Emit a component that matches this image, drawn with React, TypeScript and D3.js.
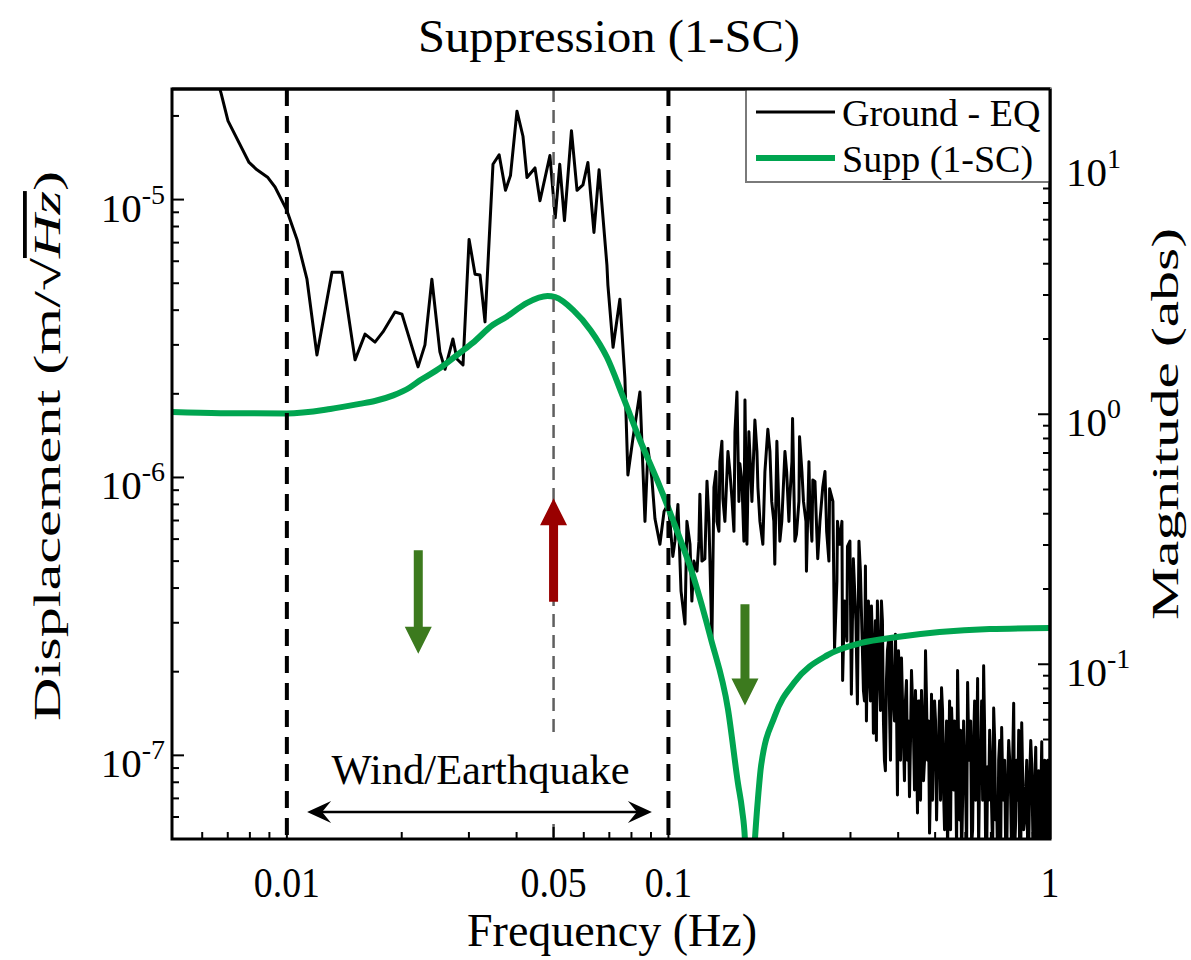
import React, { useEffect, useRef } from "react";
import * as d3 from "d3";

// ground displacement spectrum (Hz, m/sqrt(Hz))
const groundFreq = [
  0.00637, 0.00672, 0.00701, 0.00796, 0.00835, 0.00892, 0.00931, 0.01, 0.01063, 0.01129,
  0.01199, 0.01313, 0.01395, 0.01509, 0.01603, 0.01702, 0.01786, 0.0192, 0.02003, 0.02207,
  0.02301, 0.02399, 0.02518, 0.02597, 0.02724, 0.02791, 0.02895, 0.03003, 0.03113, 0.03208,
  0.03306, 0.03469, 0.036, 0.03741, 0.03855, 0.04009, 0.04157, 0.04259, 0.0447, 0.04606,
  0.04891, 0.0505, 0.0519, 0.0534, 0.0557, 0.0576, 0.0597, 0.0615, 0.0638, 0.0658,
  0.069, 0.0694, 0.0716, 0.0746, 0.0769, 0.0783, 0.0807, 0.0842, 0.0868, 0.0884,
  0.0905, 0.0922, 0.095, 0.0974, 0.0997, 0.1027, 0.1059, 0.1105, 0.1139, 0.1166,
  0.1188, 0.1209, 0.1246, 0.1262, 0.13, 0.1316, 0.134, 0.1364, 0.1389, 0.1432,
  0.1467, 0.1512, 0.1539, 0.1587, 0.1606, 0.1635, 0.1685, 0.1716, 0.1768, 0.1822,
  0.1865, 0.19, 0.1935, 0.1982, 0.2041, 0.2078, 0.2115, 0.2165, 0.2206, 0.2259,
  0.23, 0.2345, 0.239, 0.2462, 0.2537, 0.2598, 0.2645, 0.2725, 0.2774, 0.2808,
  0.2861, 0.2893, 0.2946, 0.3016, 0.3052, 0.3128, 0.3185,
  0.3244, 0.3283, 0.3323, 0.3363, 0.3404, 0.3445, 0.3487, 0.3529, 0.3573, 0.3616,
  0.366, 0.3704, 0.3749, 0.3796, 0.3842, 0.3888, 0.3935, 0.3983, 0.4032, 0.4081,
  0.413, 0.418, 0.4231, 0.4283, 0.4335, 0.4388, 0.4441, 0.4495, 0.455, 0.4605,
  0.4661, 0.4718, 0.4775, 0.4834, 0.4892, 0.4952, 0.5012, 0.5073, 0.5135, 0.5197,
  0.526, 0.5324, 0.5389, 0.5455, 0.5521, 0.5588, 0.5656, 0.5725, 0.5795, 0.5865,
  0.5937, 0.6009, 0.6082, 0.6157, 0.6231, 0.6307, 0.6384, 0.6461, 0.654, 0.6619,
  0.67, 0.6781, 0.6864, 0.6948, 0.7032, 0.7118, 0.7204, 0.7292, 0.7381, 0.747,
  0.7561, 0.7653, 0.7746, 0.7841, 0.7936, 0.8032, 0.813, 0.8229, 0.833, 0.8431,
  0.8533, 0.8637, 0.8742, 0.8849, 0.8956, 0.9065, 0.9176, 0.9287, 0.94, 0.9515,
  0.963, 0.9748, 0.9866, 1.0,
];
const groundAmp = [
  3.1e-5, 2.42e-5, 1.92e-5, 1.36e-5, 1.28e-5, 1.2e-5, 1.11e-5, 9.14e-6, 7.19e-6, 5.17e-6,
  2.76e-6, 5.48e-6, 5.48e-6, 2.65e-6, 3.28e-6, 3.07e-6, 3.34e-6, 3.94e-6, 3.87e-6, 2.5e-6,
  3.0e-6, 5.17e-6, 2.83e-6, 2.45e-6, 3.15e-6, 2.67e-6, 2.54e-6, 7.19e-6, 5.39e-6, 5.35e-6,
  3.63e-6, 1.34e-5, 1.45e-5, 1.08e-5, 1.22e-5, 2.08e-5, 1.69e-5, 1.2e-5, 1.3e-5, 9.9e-6,
  1.44e-5, 8.6e-6, 1.34e-5, 8.4e-6, 1.77e-5, 1.08e-5, 1.13e-5, 1.36e-5, 7.62e-6, 1.28e-5,
  5.8e-6, 4.92e-6, 2.94e-6, 4.38e-6, 2.27e-6, 1.02e-6, 1.38e-6, 2.03e-6, 6.95e-7, 1.27e-6,
  9.9e-7, 7.1e-7, 5.75e-7, 7.55e-7, 8.0e-7, 5.2e-7, 8.0e-7, 2.97e-7, 5.75e-7, 5.0e-7,
  4.6e-7, 8.7e-7, 5.1e-7, 9.7e-7, 2.58e-7, 9.2e-7, 6.95e-7, 1.14e-6, 8.4e-7, 1.24e-6,
  8.4e-7, 2.03e-6, 1.12e-6, 1.9e-6, 5.75e-7, 1.21e-6, 1.61e-6, 9.2e-7, 5.75e-7, 1.49e-6,
  8.2e-7, 4.87e-7, 1.03e-6, 6.95e-7, 1.05e-6, 8.2e-7, 1.63e-6, 6.24e-7, 1.4e-6, 8.2e-7,
  4.6e-7, 8.2e-7, 9.8e-7, 5.1e-7, 9.2e-7, 6.4e-7, 9.1e-7, 2.43e-7, 6.95e-7, 5.75e-7,
  1.86e-7, 3.59e-7, 5.65e-7, 1.66e-7, 5.1e-7, 1.53e-7, 4.6e-7,
  1.71e-7, 4.8e-7, 2.58e-7, 1.91e-7, 3.45e-7, 1.2e-7, 3.05e-7, 3.59e-7, 1.86e-7, 3.59e-7,
  1.33e-7, 8.8e-8, 2.38e-7, 1.49e-7, 2.58e-7, 1.57e-7, 2.73e-7, 7.2e-8, 1.86e-7, 2.24e-7,
  1.13e-7, 1.57e-7, 9.6e-8, 7.1e-8, 2.02e-7, 1.18e-7, 1.71e-7, 6.2e-8, 1.57e-7, 1.71e-7,
  8.1e-8, 2.38e-7, 9.6e-8, 5.25e-8, 1.66e-7, 1.13e-7, 1.33e-7, 9.1e-8, 1.57e-7, 1.75e-7,
  7.5e-8, 9.6e-8, 4.57e-8, 1.57e-7, 1.48e-7, 7.5e-8, 9.6e-8, 2.02e-7, 5.85e-8, 4.2e-8,
  1.33e-7, 7.5e-8, 1.83e-7, 9.6e-8, 4.75e-8, 1.13e-7, 6.9e-8, 1.89e-7, 8.8e-8, 1.57e-7,
  2.1e-7, 4.57e-8, 9.1e-8, 1.23e-7, 6.45e-8, 1.48e-7, 5.85e-8, 3.9e-8, 1.13e-7, 1.26e-7,
  6.9e-8, 4.57e-8, 8.1e-8, 9.6e-8, 4.2e-8, 1.54e-7, 5.85e-8, 6.9e-8, 3.9e-8, 1.31e-7,
  5.4e-8, 7.5e-8, 4.2e-8, 8.5e-8, 9.3e-8, 4.2e-8, 1.07e-7, 4.57e-8, 4.2e-8, 1.12e-7,
  4.75e-8, 5.4e-8, 9.6e-8, 4.2e-8,
];

const groundFillFreq = [
  0.1009, 0.104, 0.1079, 0.1118, 0.1152, 0.1202, 0.1224, 0.1277, 0.1332, 0.1356,
  0.1381, 0.1406, 0.1449, 0.1485, 0.1494, 0.153, 0.1558, 0.1577, 0.1625, 0.1655,
  0.1706, 0.1737, 0.179, 0.1845, 0.1889, 0.1924, 0.1959, 0.202, 0.2069, 0.2107,
  0.2145, 0.2198, 0.2238, 0.2293, 0.2335, 0.2377, 0.2421, 0.2495, 0.2572, 0.2634,
  0.2698, 0.2764, 0.2849, 0.2936, 0.299, 0.31, 0.3157,
  0.3264, 0.3303, 0.3343, 0.3384, 0.3425, 0.3466, 0.3508, 0.3551, 0.3595, 0.3638,
  0.3682, 0.3727, 0.3773, 0.3819, 0.3865, 0.3912, 0.3959, 0.4008, 0.4057, 0.4106,
  0.4155, 0.4206, 0.4257, 0.4309, 0.4362, 0.4415, 0.4468, 0.4523, 0.4578, 0.4633,
  0.469, 0.4747, 0.4805, 0.4863, 0.4922, 0.4982, 0.5043, 0.5104, 0.5166, 0.5229,
  0.5292, 0.5357, 0.5422, 0.5488, 0.5555, 0.5622, 0.5691, 0.576, 0.583, 0.5901,
  0.5973, 0.6046, 0.612, 0.6194, 0.6269, 0.6346, 0.6423, 0.6501, 0.658, 0.666,
  0.6741, 0.6823, 0.6906, 0.699, 0.7075, 0.7161, 0.7248, 0.7337, 0.7426, 0.7516,
  0.7607, 0.77, 0.7794, 0.7889, 0.7984, 0.8081, 0.818, 0.828, 0.8381, 0.8482,
  0.8585, 0.869, 0.8796, 0.8903, 0.9011, 0.9121, 0.9232, 0.9344, 0.9458, 0.9573,
  0.9689, 0.9807, 0.9926,
];
const groundFillAmp = [
  6.95e-7, 5.9e-7, 3.9e-7, 6.95e-7, 3.59e-7, 5.9e-7, 5.0e-7, 6.95e-7, 1.05e-6, 6.4e-7,
  1.35e-6, 6.95e-7, 1.05e-6, 6.4e-7, 1.46e-6, 8.2e-7, 9.68e-7, 5.9e-7, 1.46e-6, 8.2e-7,
  1.24e-6, 6.95e-7, 1.05e-6, 1.24e-6, 6.95e-7, 1.35e-6, 5.9e-7, 1.24e-6, 6.95e-7, 1.14e-6,
  5.9e-7, 8.2e-7, 1.05e-6, 6.95e-7, 1.14e-6, 5.9e-7, 9.68e-7, 6.95e-7, 1.05e-6, 5.0e-7,
  8.2e-7, 4.24e-7, 6.95e-7, 2.58e-7, 5.9e-7, 3.05e-7, 5.9e-7,
  1.57e-7, 1.33e-7, 3.59e-7, 1.57e-7, 2.58e-7, 1.71e-7, 1.13e-7, 2.58e-7, 1.45e-7, 3.05e-7,
  9.6e-8, 1.86e-7, 2.58e-7, 9.6e-8, 1.86e-7, 1.33e-7, 1.57e-7, 2.38e-7, 9.6e-8, 1.57e-7,
  8.1e-8, 1.86e-7, 1.33e-7, 1.13e-7, 1.57e-7, 7.5e-8, 1.13e-7, 1.57e-7, 6.9e-8, 1.33e-7,
  9.6e-8, 1.57e-7, 1.33e-7, 8.1e-8, 6.9e-8, 1.57e-7, 5.85e-8, 1.13e-7, 6.9e-8, 1.45e-7,
  5.4e-8, 1.33e-7, 8.1e-8, 5.4e-8, 1.13e-7, 1.33e-7, 4.57e-8, 1.13e-7, 1.23e-7, 6.9e-8,
  9.6e-8, 4.57e-8, 1.13e-7, 1.33e-7, 5.4e-8, 1.57e-7, 9.6e-8, 4.57e-8, 9.6e-8, 6.9e-8,
  1.23e-7, 4.2e-8, 6.9e-8, 9.6e-8, 4.57e-8, 1.13e-7, 6.9e-8, 9.6e-8, 4.57e-8, 8.1e-8,
  9.6e-8, 4.2e-8, 1.13e-7, 6.9e-8, 9.6e-8, 4.57e-8, 9.6e-8, 1.23e-7, 4.2e-8, 8.1e-8,
  5.85e-8, 9.6e-8, 4.57e-8, 1.13e-7, 5.4e-8, 8.1e-8, 4.57e-8, 8.8e-8, 6.9e-8, 4.2e-8,
  9.6e-8, 4.57e-8, 8.1e-8,
];

// suppression transfer magnitude (1 - SC), right axis
const suppFreq = [
  0.005, 0.0067, 0.01, 0.013, 0.0155, 0.017, 0.019, 0.021, 0.0224, 0.0252,
  0.0284, 0.0307, 0.0347, 0.0376, 0.0426, 0.0482, 0.0505, 0.0563, 0.0625, 0.069,
  0.0761, 0.0842, 0.0934, 0.1027, 0.1166, 0.1291, 0.1432, 0.1521, 0.156, 0.1587,
  0.1625, 0.1685, 0.1716, 0.1749, 0.19, 0.2141, 0.2618, 0.3205, 0.3974, 0.5135,
  0.6948, 1.0,
];
const suppMag = [
  1.02, 1.01, 1.007, 1.05, 1.1, 1.13, 1.19, 1.28, 1.37, 1.53,
  1.76, 1.93, 2.28, 2.45, 2.79, 2.97, 2.94, 2.61, 2.17, 1.69,
  1.17, 0.789, 0.546, 0.378, 0.221, 0.127, 0.0662, 0.0335, 0.0261, 0.0198,
  0.006, 0.0198, 0.0289, 0.0392, 0.0621, 0.0849, 0.109, 0.1217, 0.1285, 0.1346,
  0.1384, 0.1396,
];

const seriesNames = ["Ground - EQ", "Supp (1-SC)"];
const xTicks = [0.01, 0.05, 0.1, 1];
const xTickLabels = ["0.01", "0.05", "0.1", "1"];
const leftTicks = [1e-7, 1e-6, 1e-5];
const leftTickExp = ["-7", "-6", "-5"];
const rightTicks = [0.1, 1, 10];
const rightTickExp = ["-1", "0", "1"];
const bandEdges = [0.01, 0.1];
const centreFreq = [0.05];

// block arrows: frequency, tail and tip on the left axis
const arrowFreq = [0.0221, 0.05, 0.1587];
const arrowTail = [5.47e-7, 3.57e-7, 3.5e-7];
const arrowTip = [2.32e-7, 8.41e-7, 1.51e-7];
const arrowColor = ["#3c7a1e", "#990000", "#3c7a1e"];

// band marker
const bandArrowFreq = [0.0113, 0.0905];
const bandArrowLevel = 6.25e-8;
const bandLabel = "Wind/Earthquake";
const bandLabelFreq = 0.0322;
const bandLabelLevel = 7.87e-8;

const FONT = "'Liberation Serif', 'Times New Roman', serif";

export default function App() {
  const ref = useRef<SVGSVGElement>(null);

  useEffect(() => {
    const svg = d3.select(ref.current);
    svg.selectAll("*").remove();
    const left = 172, right = 1050, top = 89, bottom = 839;

    const x = d3.scaleLog().domain([0.005, 1]).range([left, right]);
    const yL = d3.scaleLog().domain([5e-8, 2.5e-5]).range([bottom, top]);
    const yR = d3.scaleLog().domain([0.02, 20]).range([bottom, top]);

    svg.append("rect").attr("width", 1191).attr("height", 960).attr("fill", "#fff");

    svg.append("defs").append("clipPath").attr("id", "plotclip")
      .append("rect").attr("x", left).attr("y", top).attr("width", right - left).attr("height", bottom - top);

    const plot = svg.append("g").attr("clip-path", "url(#plotclip)");

    const n = Math.min(groundFreq.length, groundAmp.length);
    const m = Math.min(groundFillFreq.length, groundFillAmp.length);
    const ground = groundFreq.slice(0, n).map((f, i) => [f, groundAmp[i]])
      .concat(groundFillFreq.slice(0, m).map((f, i) => [f, groundFillAmp[i]]))
      .sort((a, b) => a[0] - b[0]);
    const supp = suppFreq.map((f, i) => [f, suppMag[i]]);

    plot.append("path")
      .attr("d", d3.line().x((d: any) => x(d[0])).y((d: any) => yL(d[1]))(ground as any))
      .attr("fill", "none").attr("stroke", "#000").attr("stroke-width", 3)
      .attr("stroke-linejoin", "round");

    plot.append("path")
      .attr("d", d3.line().curve(d3.curveMonotoneX).x((d: any) => x(d[0])).y((d: any) => yR(d[1]))(supp as any))
      .attr("fill", "none").attr("stroke", "#00a550").attr("stroke-width", 6);

    // vertical markers
    plot.selectAll(".edge").data(bandEdges).enter().append("line")
      .attr("x1", (d) => x(d)).attr("x2", (d) => x(d)).attr("y1", top).attr("y2", bottom)
      .attr("stroke", "#000").attr("stroke-width", 4).attr("stroke-dasharray", "17,10");
    plot.selectAll(".centre").data(centreFreq).enter().append("line")
      .attr("x1", (d) => x(d)).attr("x2", (d) => x(d)).attr("y1", top).attr("y2", bottom)
      .attr("stroke", "#5f5f5f").attr("stroke-width", 2.5).attr("stroke-dasharray", "13,8");

    // band label with white box
    const lx = x(bandLabelFreq), ly = yL(bandLabelLevel);
    plot.append("rect").attr("x", lx - 153).attr("y", ly - 47).attr("width", 306).attr("height", 79).attr("fill", "#fff");
    svg.append("text").attr("x", lx).attr("y", ly).attr("text-anchor", "middle")
      .style("font-family", FONT).style("font-size", "42.5px").text(bandLabel);

    const ay = yL(bandArrowLevel);
    const ax0 = x(bandArrowFreq[0]), ax1 = x(bandArrowFreq[1]);
    svg.append("line").attr("x1", ax0 + 10).attr("x2", ax1 - 10).attr("y1", ay).attr("y2", ay)
      .attr("stroke", "#000").attr("stroke-width", 2.5);
    const head = (tx: number, dir: number) =>
      `M${tx},${ay} L${tx + dir * 24},${ay - 11} L${tx + dir * 15},${ay} L${tx + dir * 24},${ay + 11} Z`;
    svg.append("path").attr("d", head(ax0, 1)).attr("fill", "#000");
    svg.append("path").attr("d", head(ax1, -1)).attr("fill", "#000");

    // block arrows
    arrowFreq.forEach((f, i) => {
      const cx = x(f), y0 = yL(arrowTail[i]), y1 = yL(arrowTip[i]);
      const dir = y1 > y0 ? 1 : -1;
      const hb = y1 - dir * 27;
      svg.append("path")
        .attr("d", `M${cx - 4.5},${y0} L${cx + 4.5},${y0} L${cx + 4.5},${hb} L${cx + 13.5},${hb} L${cx},${y1} L${cx - 13.5},${hb} L${cx - 4.5},${hb} Z`)
        .attr("fill", arrowColor[i]);
    });

    // axes box
    svg.append("rect").attr("x", left).attr("y", top).attr("width", right - left).attr("height", bottom - top)
      .attr("fill", "none").attr("stroke", "#000").attr("stroke-width", 3);

    const ticks = svg.append("g").attr("stroke", "#000").attr("stroke-width", 2);
    const xMinor = x.ticks().filter((t) => !xTicks.some((mj) => Math.abs(mj - t) < 1e-9));
    xMinor.forEach((t) => ticks.append("line").attr("x1", x(t)).attr("x2", x(t)).attr("y1", bottom).attr("y2", bottom - 7));
    xTicks.forEach((t) => ticks.append("line").attr("x1", x(t)).attr("x2", x(t)).attr("y1", bottom).attr("y2", bottom - 12));
    yL.ticks().forEach((t) => {
      const major = leftTicks.some((mj) => Math.abs(mj / t - 1) < 1e-6);
      ticks.append("line").attr("x1", left).attr("x2", left + (major ? 12 : 7)).attr("y1", yL(t)).attr("y2", yL(t));
    });
    yR.ticks().forEach((t) => {
      const major = rightTicks.some((mj) => Math.abs(mj / t - 1) < 1e-6);
      ticks.append("line").attr("x1", right).attr("x2", right - (major ? 12 : 7)).attr("y1", yR(t)).attr("y2", yR(t));
    });

    // tick labels
    xTicks.forEach((t, i) => {
      svg.append("text").attr("transform", `translate(${x(t)},897) scale(0.88,1)`).attr("text-anchor", "middle")
        .style("font-family", FONT).style("font-size", "43px").text(xTickLabels[i]);
    });
    leftTicks.forEach((t, i) => {
      const tx = svg.append("text").attr("x", 165).attr("y", yL(t) + 22).attr("text-anchor", "end")
        .style("font-family", FONT).style("font-size", "41px");
      tx.append("tspan").text("10");
      tx.append("tspan").attr("dy", -18).style("font-size", "28px").text(leftTickExp[i]);
    });
    rightTicks.forEach((t, i) => {
      const tx = svg.append("text").attr("x", 1066).attr("y", yR(t) + 22)
        .style("font-family", FONT).style("font-size", "41px");
      tx.append("tspan").text("10");
      tx.append("tspan").attr("dy", -18).style("font-size", "28px").text(rightTickExp[i]);
    });

    // axis titles
    svg.append("text").attr("x", 609).attr("y", 52).attr("text-anchor", "middle")
      .attr("textLength", 382).attr("lengthAdjust", "spacingAndGlyphs")
      .style("font-family", FONT).style("font-size", "47px").text("Suppression (1-SC)");
    svg.append("text").attr("x", 612).attr("y", 946).attr("text-anchor", "middle")
      .attr("textLength", 290).attr("lengthAdjust", "spacingAndGlyphs")
      .style("font-family", FONT).style("font-size", "46px").text("Frequency (Hz)");

    const yl = svg.append("text").attr("transform", "translate(60,446) rotate(-90)").attr("text-anchor", "middle")
      .attr("textLength", 550).attr("lengthAdjust", "spacingAndGlyphs")
      .style("font-family", FONT).style("font-size", "38px");
    yl.append("tspan").text("Displacement (m/");
    yl.append("tspan").text("\u221A");
    yl.append("tspan").style("font-style", "italic").style("text-decoration", "overline").text("Hz");
    yl.append("tspan").text(")");

    svg.append("text").attr("transform", "translate(1178,424) rotate(-90)").attr("text-anchor", "middle")
      .attr("textLength", 392).attr("lengthAdjust", "spacingAndGlyphs")
      .style("font-family", FONT).style("font-size", "38px").text("Magnitude (abs)");

    // legend
    const lg = svg.append("g");
    lg.append("rect").attr("x", 746).attr("y", top).attr("width", right - 746).attr("height", 93)
      .attr("fill", "#fff").attr("stroke", "#7a7a7a").attr("stroke-width", 2);
    const legendColor = ["#000", "#00a550"];
    const legendWidth = [3, 6];
    seriesNames.forEach((name, i) => {
      const ly2 = 112 + i * 46;
      lg.append("line").attr("x1", 756).attr("x2", 835).attr("y1", ly2).attr("y2", ly2)
        .attr("stroke", legendColor[i]).attr("stroke-width", legendWidth[i]);
      lg.append("text").attr("x", 842).attr("y", ly2 + 14)
        .style("font-family", FONT).style("font-size", "38px").text(name);
    });
    svg.append("line").attr("x1", left).attr("x2", right).attr("y1", top).attr("y2", top)
      .attr("stroke", "#000").attr("stroke-width", 3);
    svg.append("line").attr("x1", right).attr("x2", right).attr("y1", top).attr("y2", bottom)
      .attr("stroke", "#000").attr("stroke-width", 3);
  }, []);

  return (
    <svg ref={ref} width={1191} height={960}
      style={{ position: "absolute", left: 0, top: 0, display: "block" }} />
  );
}
